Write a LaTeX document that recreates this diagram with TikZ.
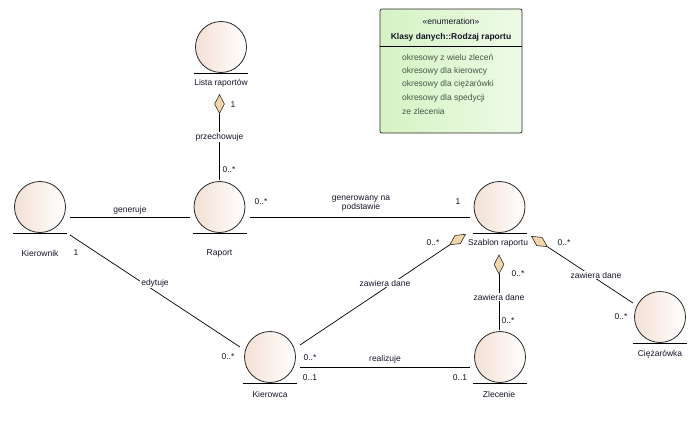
\documentclass[tikz,border=0pt]{standalone}
\usepackage{fontspec}
\setmainfont{Liberation Sans}
\usetikzlibrary{shapes.geometric}

\definecolor{entleft}{RGB}{243,224,212}
\definecolor{entline}{RGB}{40,40,40}
\definecolor{aggfill}{RGB}{243,214,167}
\definecolor{enumleft}{RGB}{214,243,196}
\definecolor{enumright}{RGB}{238,251,230}
\definecolor{enumtext}{RGB}{70,88,70}
\definecolor{txt}{RGB}{20,20,40}

\tikzset{
  entity/.style={circle, draw=entline, line width=0.8pt, minimum size=51pt,
    inner sep=0pt, left color=entleft, right color=white},
  ent label/.style={text=txt, inner sep=1pt},
  mult/.style={text=txt, inner sep=1pt},
  role/.style={text=txt, inner sep=1pt, fill=white},
  conn/.style={draw=black, line width=0.7pt},
  agg/.style={diamond, draw=entline, line width=0.6pt, fill=aggfill,
    inner sep=0pt, minimum width=19pt, minimum height=10pt},
}

% horizontal base line drawn under an entity circle
\newcommand{\entbase}[1]{\draw[line width=0.9pt] ([xshift=-27pt,yshift=-0.5pt]#1.south) -- ([xshift=27pt,yshift=-0.5pt]#1.south);}

\begin{document}
\begin{tikzpicture}[x=1pt, y=-1pt, font=\fontsize{8.5}{10}\selectfont]
\useasboundingbox (0,0) rectangle (700,431);

% entities
\node[entity] (lista) at (221,47) {};
\node[entity] (kierownik) at (40,207) {};
\node[entity] (raport) at (219.5,207) {};
\node[entity] (szablon) at (499.5,207) {};
\node[entity] (kierowca) at (270,357) {};
\node[entity] (zlecenie) at (500,357) {};
\node[entity] (ciez) at (660,317) {};
\entbase{lista}
\entbase{kierownik}
\entbase{raport}
\entbase{szablon}
\entbase{kierowca}
\entbase{zlecenie}
\entbase{ciez}

\node[ent label] (lista-t) at (221,83) {Lista raportów};
\node[ent label] (kierownik-t) at (40,253) {Kierownik};
\node[ent label] (raport-t) at (219.5,253) {Raport};
\node[ent label] (szablon-t) at (498,243) {Szablon raportu};
\node[ent label] (kierowca-t) at (270,394) {Kierowca};
\node[ent label] (zlecenie-t) at (499,394) {Zlecenie};
\node[ent label] (ciez-t) at (660,354) {Ciężarówka};

% enumeration
\node[draw=entline, line width=0.7pt, rounded corners=2pt, left color=enumleft,
  right color=enumright, minimum width=142pt, minimum height=124pt,
  inner sep=0pt] (enum) at (451,71) {};
\draw[line width=0.7pt] ([yshift=-38pt]enum.north west) -- ([yshift=-38pt]enum.north east);
\node[text=txt, inner sep=0pt] (enum-st) at (451,21) {«enumeration»};
\node[text=txt, inner sep=0pt, font=\fontsize{8.5}{10}\selectfont\bfseries] (enum-name) at (451,37) {Klasy danych::Rodzaj raportu};
\begin{scope}[every node/.style={text=enumtext, anchor=west, inner sep=0pt}]
\node (e1) at (402,58) {okresowy z wielu zleceń};
\node (e2) at (402,71.3) {okresowy dla kierowcy};
\node (e3) at (402,84.6) {okresowy dla ciężarówki};
\node (e4) at (402,97.9) {okresowy dla spedycji};
\node (e5) at (402,111.2) {ze zlecenia};
\end{scope}

% connector end points
\coordinate (kierownik-e) at (70,217);
\coordinate (raport-w) at (190,217);
\coordinate (raport-e) at (250,217);
\coordinate (szablon-w) at (470,217);
\coordinate (raport-n) at (219.5,180);
\coordinate (kierownik-se) at (70,235);
\coordinate (kierowca-nw) at (240,347);
\coordinate (kierowca-ne) at (300,345);
\coordinate (kierowca-e) at (300,367);
\coordinate (zlecenie-w) at (470,367);
\coordinate (zlecenie-n) at (499,330);
\coordinate (ciez-nw) at (633,303);

% aggregation diamonds
\node[agg, rotate=90] (d-lista) at (219.5,104) {};
\node[agg, rotate=33.8] (d-left) at (457.7,239.5) {};
\node[agg, rotate=90] (d-bottom) at (499,264.5) {};
\node[agg, rotate=-33.2] (d-right) at (539.4,241.5) {};

% connectors
\draw[conn] (d-lista.west) -- (raport-n);
\draw[conn] (kierownik-e) -- (raport-w);
\draw[conn] (raport-e) -- (szablon-w);
\draw[conn] (kierownik-se) -- (kierowca-nw);
\draw[conn] (d-left.west) -- (kierowca-ne);
\draw[conn] (d-bottom.west) -- (zlecenie-n);
\draw[conn] (d-right.east) -- (ciez-nw);
\draw[conn] (kierowca-e) -- (zlecenie-w);

% role names
\node[role] (r1) at (219.5,137) {przechowuje};
\node[text=txt, inner sep=1pt] (r2) at (130,210) {generuje};
\node[text=txt, inner sep=1pt, align=center] (r3) at (361,203.5) {generowany na\\[-0.5pt]podstawie};
\node[role] (r4) at (155,283) {edytuje};
\node[role] (r5) at (385,283) {zawiera dane};
\node[role] (r6) at (499,297) {zawiera dane};
\node[role] (r7) at (596,275) {zawiera dane};
\node[text=txt, inner sep=1pt] (r8) at (385,359) {realizuje};

% multiplicities
\node[mult] (m1) at (233,105) {1};
\node[mult] (m2) at (229,170) {0..*};
\node[mult] (m3) at (261,202) {0..*};
\node[mult] (m4) at (458,202) {1};
\node[mult] (m5) at (76,253) {1};
\node[mult] (m6) at (228,357) {0..*};
\node[mult] (m7) at (433,243) {0..*};
\node[mult] (m8) at (518,274) {0..*};
\node[mult] (m9) at (508,321) {0..*};
\node[mult] (m10) at (564,243) {0..*};
\node[mult] (m11) at (621,317) {0..*};
\node[mult] (m12) at (310,358) {0..*};
\node[mult] (m13) at (310,378) {0..1};
\node[mult] (m14) at (460,378) {0..1};
\end{tikzpicture}
\end{document}
